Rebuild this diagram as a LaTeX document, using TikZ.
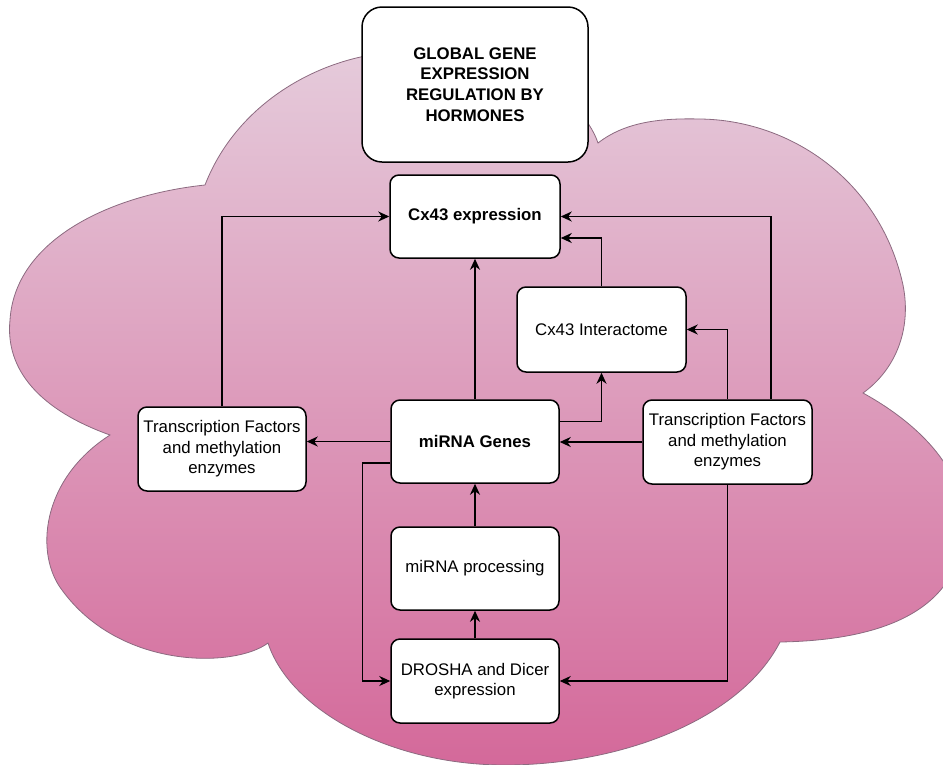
\documentclass[tikz,border=0pt]{standalone}
\usepackage{fontspec}
\setmainfont{Liberation Sans}
\usepackage{tikz}
\usetikzlibrary{
  arrows.meta,
  positioning,
  calc
}
\definecolor{hrTop}{HTML}{E5CBDB}
\definecolor{hrBottom}{HTML}{D4699A}
\definecolor{hrEdge}{HTML}{8C6A80}
\tikzset{
  hrnode/.style={
    draw, fill=white, rounded corners=9pt, line width=1.5pt, align=center,
    inner sep=2pt, font=\fontsize{16.8}{20.5}\selectfont
  },
  hrbox/.style={hrnode, minimum width=168pt, minimum height=83pt},
  hrbold/.style={hrbox, font=\fontsize{16.8}{20.5}\selectfont\bfseries},
  hrtitle/.style={hrnode, rounded corners=20pt, minimum width=226pt, minimum height=155pt,
    font=\fontsize{16.8}{20.7}\selectfont\bfseries},
  hrcloud/.style={draw=hrEdge, line width=0.8pt, top color=hrTop, bottom color=hrBottom},
  hrlink/.style={-{Stealth[length=11pt, width=10pt, inset=3.5pt]}, line width=1.6pt},
  hrthin/.style={hrlink, line width=1.1pt}
}

\begin{document}
\begin{tikzpicture}[x=1pt, y=-1pt]
  \useasboundingbox (0,0) rectangle (943,764);
  \clip (0,0) rectangle (943,764);
  % the cloud behind everything
  \path[hrcloud] (205,185)
    .. controls (240,95) and (335,50) .. (410,52)
    .. controls (500,54) and (580,90) .. (598,143)
    .. controls (625,122) and (660,118) .. (700,119)
    .. controls (790,120) and (880,180) .. (903,285)
    .. controls (912,330) and (895,370) .. (863,393)
    .. controls (930,430) and (968,480) .. (963,530)
    .. controls (960,600) and (900,640) .. (780,642)
    .. controls (740,720) and (620,765) .. (505,765)
    .. controls (390,765) and (290,710) .. (268,643)
    .. controls (235,668) and (120,670) .. (62,590)
    .. controls (35,555) and (40,480) .. (110,435)
    .. controls (40,410) and (5,370) .. (10,320)
    .. controls (15,240) and (110,195) .. cycle;

  \node[hrtitle] (title) at (475,84.5) {GLOBAL GENE\\EXPRESSION\\REGULATION BY\\HORMONES};
  \node[hrbold, minimum width=170pt] (cx) at (475,216.5) {Cx43 expression};
  \node[hrbox, minimum width=169pt, minimum height=85pt] (inter) at (601.5,329.5) {Cx43 Interactome};
  \node[hrbold] (mir) at (475,441.5) {miRNA Genes};
  \node[hrbox, minimum width=169pt, minimum height=84pt] (tfr) at (727.5,442) {Transcription Factors\\and methylation\\enzymes};
  \node[hrbox, minimum height=84pt] (tfl) at (222,449) {Transcription Factors\\and methylation\\enzymes};
  \node[hrbox] (proc) at (475,568.5) {miRNA processing};
  \node[hrbox, minimum height=84pt] (dro) at (475,681) {DROSHA and Dicer\\expression};

  \draw[hrlink] (mir) -- (cx);
  \draw[hrlink] (tfl.north) |- (cx.west);
  \draw[hrlink] (mir.west) -- (mir.west -| tfl.east);
  \draw[hrlink] ([xshift=-42pt]tfr.north east) |- (cx.east);
  \draw[hrthin] (tfr.north) |- (inter.east);
  \draw[hrlink] (tfr.west) -- (tfr.west -| mir.east);
  \draw[hrlink] ([yshift=20pt]mir.east) -| (inter.south);
  \draw[hrlink] (inter.north) |- ([yshift=-21.5pt]cx.east);
  \draw[hrthin] ([yshift=-21.5pt]mir.west) -- ++(-28,0) |- (dro.west);
  \draw[hrthin] (tfr.south) |- (dro.east);
  \draw[hrlink] (dro) -- (proc);
  \draw[hrlink] (proc) -- (mir);
\end{tikzpicture}
\end{document}
